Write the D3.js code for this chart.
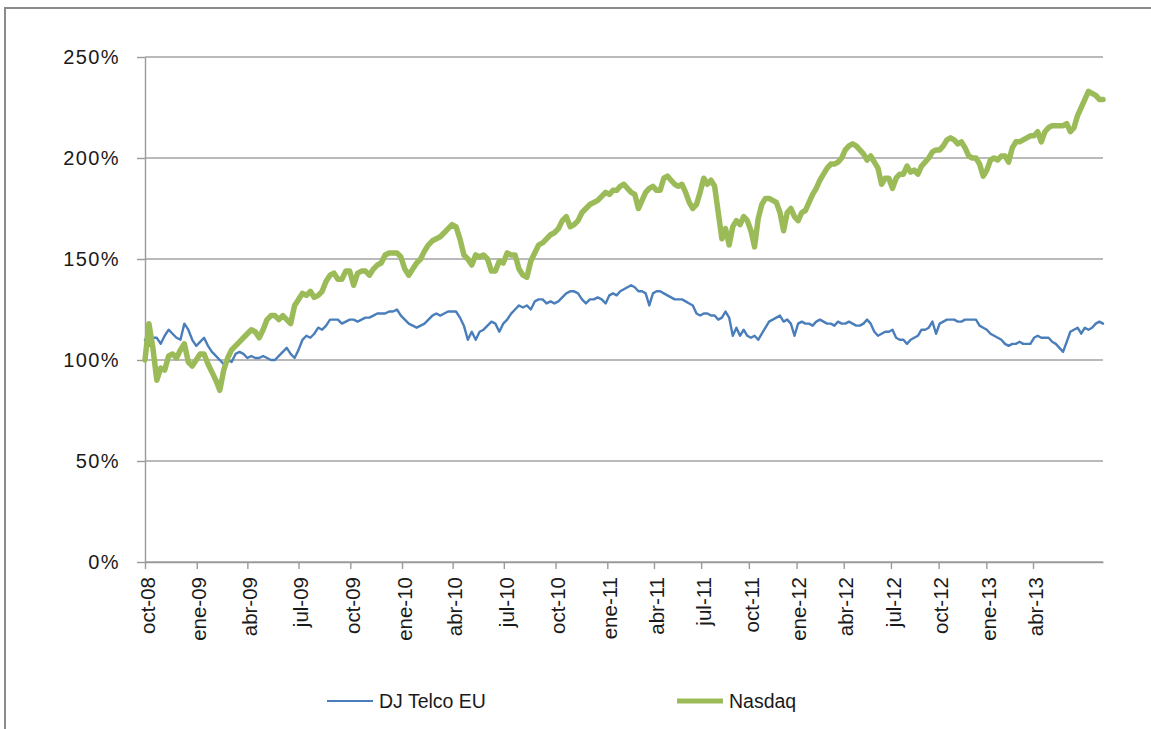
<!DOCTYPE html>
<html>
<head>
<meta charset="utf-8">
<script src="https://cdn.jsdelivr.net/npm/d3@7/dist/d3.min.js"></script>
<style>
  body { margin: 0; background: #fff; }
  svg { display: block; font-family: "Liberation Sans", Arial, sans-serif; }
</style>
</head>
<body>
<svg id="chart"></svg>
<script>
// weekly closes, rebased to 100 at the first week (oct-08)
const startDate = new Date(2008, 9, 1);

const seriesNames = ['DJ Telco EU', 'Nasdaq'];

const djTelcoEU = [
  110, 107, 111, 111, 108, 112, 115, 113, 111, 110, 118, 115, 110, 107, 109, 111, 107, 104, 102, 100,
  98, 100, 99, 103, 104, 103, 101, 102, 101, 101, 102, 101, 100, 100, 102, 104, 106, 103, 101, 105,
  110, 112, 111, 113, 116, 115, 117, 120, 120, 120, 118, 119, 120, 120, 119, 120, 121, 121, 122, 123,
  123, 123, 124, 124, 125, 122, 120, 118, 117, 116, 117, 118, 120, 122, 123, 122, 123, 124, 124, 124,
  121, 117, 110, 114, 110, 114, 115, 117, 119, 118, 114, 118, 120, 123, 125, 127, 126, 127, 125, 129,
  130, 130, 128, 129, 128, 129, 131, 133, 134, 134, 133, 130, 128, 130, 130, 131, 130, 128, 132, 133,
  132, 134, 135, 136, 137, 136, 134, 134, 133, 127, 133, 134, 134, 133, 132, 131, 130, 130, 130, 129,
  128, 127, 123, 122, 123, 123, 122, 122, 120, 121, 124, 121, 112, 116, 112, 115, 112, 111, 112, 110,
  113, 116, 119, 120, 121, 122, 119, 120, 118, 112, 118, 119, 118, 118, 117, 119, 120, 119, 118, 118,
  117, 119, 118, 118, 119, 118, 117, 117, 118, 120, 118, 114, 112, 113, 114, 114, 115, 111, 110, 110,
  108, 110, 111, 112, 115, 115, 116, 119, 113, 118, 119, 120, 120, 120, 119, 119, 120, 120, 120, 120,
  117, 116, 115, 113, 112, 111, 110, 108, 107, 108, 108, 109, 108, 108, 108, 111, 112, 111, 111, 111,
  109, 108, 106, 104, 109, 114, 115, 116, 113, 116, 115, 116, 118, 119, 118
];

const nasdaq = [
  100, 118, 106, 90, 96, 95, 102, 103, 101, 105, 108, 99, 97, 100, 103, 103, 98, 94, 90, 85,
  95, 101, 105, 107, 109, 111, 113, 115, 114, 111, 115, 120, 122, 122, 120, 122, 120, 118, 127, 130,
  133, 132, 134, 131, 132, 134, 139, 142, 143, 140, 140, 144, 144, 137, 143, 144, 144, 142, 145, 147,
  148, 152, 153, 153, 153, 151, 145, 142, 145, 148, 150, 154, 157, 159, 160, 161, 163, 165, 167, 166,
  160, 152, 150, 147, 152, 151, 152, 150, 144, 144, 149, 148, 153, 152, 152, 145, 142, 141, 149, 153,
  157, 158, 160, 162, 163, 165, 169, 171, 166, 167, 169, 173, 175, 177, 178, 179, 181, 183, 182, 184,
  184, 186, 187, 185, 183, 182, 175, 179, 183, 185, 186, 184, 184, 190, 191, 189, 187, 186, 187, 183,
  178, 175, 177, 183, 190, 187, 189, 186, 173, 160, 165, 157, 166, 169, 167, 171, 169, 164, 156, 170,
  177, 180, 180, 179, 178, 173, 164, 173, 175, 171, 169, 173, 174, 178, 182, 185, 189, 192, 195, 197,
  197, 198, 200, 204, 206, 207, 206, 204, 202, 199, 201, 198, 195, 187, 190, 190, 185, 190, 192, 192,
  196, 193, 194, 192, 196, 198, 200, 203, 204, 204, 206, 209, 210, 209, 207, 208, 205, 201, 200, 200,
  197, 191, 194, 199, 200, 199, 201, 201, 198, 205, 208, 208, 209, 210, 211, 211, 213, 208, 213, 215,
  216, 216, 216, 216, 217, 213, 215, 221, 225, 229, 233, 232, 231, 229, 229
];

const yTicks = [0, 50, 100, 150, 200, 250];

const xTickDates = [
  '2008-10-01', '2009-01-01', '2009-04-01', '2009-07-01', '2009-10-01', '2010-01-01',
  '2010-04-01', '2010-07-01', '2010-10-01', '2011-01-01', '2011-04-01', '2011-07-01',
  '2011-10-01', '2012-01-01', '2012-04-01', '2012-07-01', '2012-10-01', '2013-01-01', '2013-04-01'
];
const xTickLabels = [
  'oct-08', 'ene-09', 'abr-09', 'jul-09', 'oct-09', 'ene-10', 'abr-10', 'jul-10', 'oct-10',
  'ene-11', 'abr-11', 'jul-11', 'oct-11', 'ene-12', 'abr-12', 'jul-12', 'oct-12', 'ene-13', 'abr-13'
];

const colors = ['#4a7ebb', '#9bbb59'];
const widths = [2.4, 5.5];

const W = 1151, H = 729;
const margin = { top: 57, left: 145 };
const width = 958, height = 505;

const parse = d3.timeParse('%Y-%m-%d');
const tickDates = xTickDates.map(parse);

const series = [djTelcoEU, nasdaq].map((vals, k) => ({
  name: seriesNames[k],
  values: vals.map((v, i) => ({ date: d3.timeDay.offset(startDate, 7 * i), value: v }))
}));

const endDate = d3.timeDay.offset(startDate, 7 * (nasdaq.length - 1));

const svg = d3.select('#chart').attr('width', W).attr('height', H);

// outer frame (only top and left edges are visible in the crop)
svg.append('path')
   .attr('d', `M5,${H}V8H${W}`)
   .attr('fill', 'none')
   .attr('stroke', '#8a8a8a')
   .attr('stroke-width', 2);

const g = svg.append('g').attr('transform', `translate(${margin.left},${margin.top})`);

// the source axis is not evenly spaced in time, so the scale bends at ene-11
const x = d3.scaleTime()
            .domain([startDate, tickDates[9], endDate])
            .range([0, 462.3, width]);

const y = d3.scaleLinear()
            .domain([0, 250])
            .range([height, 0]);

// gridlines
g.append('g')
 .selectAll('line')
 .data(yTicks)
 .join('line')
   .attr('x1', 0)
   .attr('x2', width)
   .attr('y1', d => y(d))
   .attr('y2', d => y(d))
   .attr('stroke', '#a3a3a3')
   .attr('stroke-width', 1.4);

const yAxis = d3.axisLeft(y)
                .tickValues(yTicks)
                .tickFormat(d => d + '%')
                .tickSize(8)
                .tickSizeOuter(0)
                .tickPadding(17);

const gy = g.append('g').call(yAxis);
gy.select('.domain').attr('stroke', '#9a9a9a').attr('stroke-width', 1.4);
gy.selectAll('.tick line').attr('stroke', '#9a9a9a').attr('stroke-width', 1.4);
gy.selectAll('.tick text')
  .attr('font-size', 20)
  .attr('letter-spacing', '1.4px')
  .attr('fill', '#1a1a1a')
  .attr('font-family', '"Liberation Sans", Arial, sans-serif');

const xAxis = d3.axisBottom(x)
                .tickValues(tickDates)
                .tickFormat((d, i) => xTickLabels[i])
                .tickSize(7)
                .tickSizeOuter(0);

const gx = g.append('g').attr('transform', `translate(0,${height})`).call(xAxis);
gx.select('.domain').attr('stroke', '#9a9a9a').attr('stroke-width', 1.4);
gx.selectAll('.tick line').attr('stroke', '#9a9a9a').attr('stroke-width', 1.4);
gx.selectAll('.tick text')
  .attr('transform', 'rotate(-90)')
  .attr('text-anchor', 'end')
  .attr('x', -15)
  .attr('y', 2)
  .attr('dy', '0.35em')
  .attr('font-size', 20.5)
  .attr('fill', '#1a1a1a')
  .attr('font-family', '"Liberation Sans", Arial, sans-serif');

const line = d3.line()
               .x(d => x(d.date))
               .y(d => y(d.value));

g.append('g')
 .selectAll('path')
 .data(series)
 .join('path')
   .attr('d', d => line(d.values))
   .attr('fill', 'none')
   .attr('stroke', (d, i) => colors[i])
   .attr('stroke-width', (d, i) => widths[i])
   .attr('stroke-linejoin', 'round')
   .attr('stroke-linecap', 'round');

// legend
const legend = svg.append('g').attr('transform', 'translate(327,701)');

const item = legend.selectAll('g')
                   .data(seriesNames)
                   .join('g')
                   .attr('transform', (d, i) => `translate(${i * 350},0)`);

item.append('line')
    .attr('x1', 0)
    .attr('x2', 46)
    .attr('stroke', (d, i) => colors[i])
    .attr('stroke-width', (d, i) => widths[i] - 0.4);

item.append('text')
    .attr('x', 52)
    .attr('dy', '0.35em')
    .attr('font-size', 19.5)
    .attr('fill', '#1a1a1a')
    .text(d => d);
</script>
</body>
</html>
